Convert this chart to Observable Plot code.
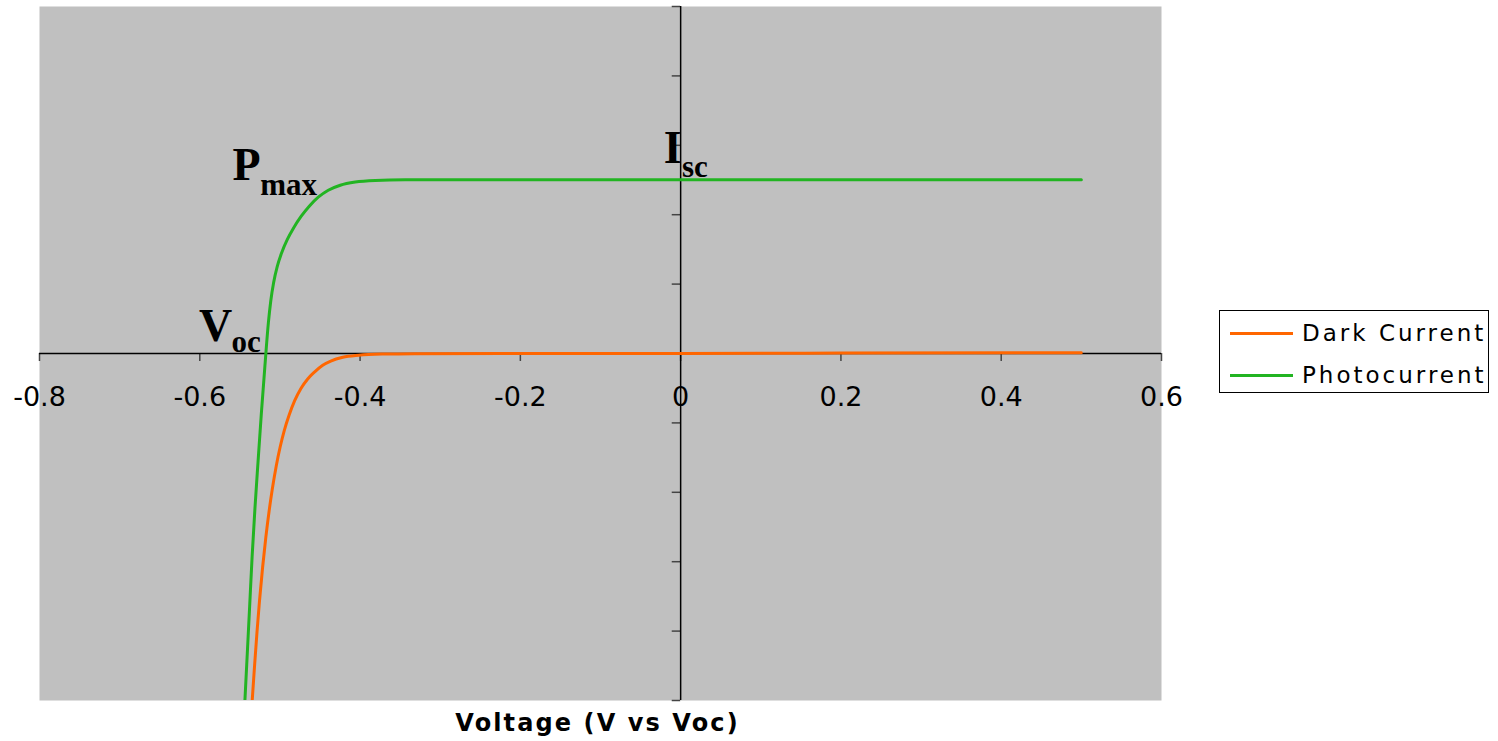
<!DOCTYPE html>
<html><head><meta charset="utf-8">
<script src="https://cdn.jsdelivr.net/npm/d3@7"></script>
<script src="https://cdn.jsdelivr.net/npm/@observablehq/plot@0.6"></script>
<style>
html,body{margin:0;padding:0;background:#fff;}
#wrap{position:relative;width:1498px;height:741px;overflow:hidden;}
#legend{position:absolute;left:1219px;top:310px;width:270px;height:83px;box-sizing:border-box;border:1px solid #000;background:#fff;font-family:"DejaVu Sans";font-size:23px;letter-spacing:3px;color:#000;}
#legend .sw{position:absolute;left:10px;width:63px;height:3px;}
#legend .lb{position:absolute;left:82px;line-height:23px;white-space:nowrap;}
</style></head><body><div id="wrap"></div>
<script>
// ---- data ----
const seriesNames = ["Dark Current", "Photocurrent"];
const seriesColors = ["#ff6600", "#22b422"];

const darkV = [-0.5346,-0.5316,-0.5286,-0.5256,-0.5216,-0.5176,-0.5136,-0.5096,-0.5046,-0.4996,-0.4946,-0.4886,-0.4816,-0.4736,-0.4656,-0.4566,-0.4466,-0.4366,-0.4216,-0.4016,-0.3716,-0.3316,-0.2,0,0.2,0.5];
const darkI = [-5.0,-4.49,-4.01,-3.58,-3.08,-2.65,-2.28,-1.96,-1.62,-1.34,-1.11,-0.89,-0.68,-0.50,-0.37,-0.265,-0.17,-0.11,-0.055,-0.025,-0.008,-0.002,0,0,0.006,0.012];

const photoV = [-0.5437,-0.5408,-0.5378,-0.5347,-0.5312,-0.5273,-0.5232,-0.5188,-0.5144,-0.5114,-0.5079,-0.5034,-0.4978,-0.4909,-0.4828,-0.4734,-0.4634,-0.4522,-0.4397,-0.4247,-0.4060,-0.3810,-0.3436,-0.3000,-0.2,0,0.2,0.5];
const photoI = [-5.0,-4.337,-3.646,-2.926,-2.235,-1.558,-0.866,-0.189,0.444,0.761,1.020,1.251,1.453,1.640,1.813,1.978,2.122,2.252,2.353,2.425,2.471,2.494,2.503,2.504,2.504,2.504,2.504,2.504];

const xTicks = [-0.8,-0.6,-0.4,-0.2,0,0.2,0.4,0.6];
const xTickLabels = ["-0.8","-0.6","-0.4","-0.2","0","0.2","0.4","0.6"];
const yTicks = [-5,-4,-3,-2,-1,0,1,2,3,4,5];
const xTitle = "Voltage (V vs Voc)";

const annMain = ["P","V","I"];
const annMainX = [-0.5592,-0.6010,-0.0212];
const annMainY = [2.504,0.185,2.744];
const annSub = ["max","oc","sc"];
const annSubX = [-0.5246,-0.5605,0.0017];
const annSubY = [2.290,0.017,2.537];

// ---- build ----
const rows = [
  ...darkV.map((v,i)=>({series:seriesNames[0], V:v, I:darkI[i]})),
  ...photoV.map((v,i)=>({series:seriesNames[1], V:v, I:photoI[i]}))
];
const mains = annMain.map((t,i)=>({t, x:annMainX[i], y:annMainY[i]}));
const subs = annSub.map((t,i)=>({t, x:annSubX[i], y:annSubY[i]}));
const xt = xTicks.map((v,i)=>({v, label:xTickLabels[i]}));

const chart = Plot.plot({
  width: 1498, height: 741,
  marginLeft: 39, marginRight: 337, marginTop: 6, marginBottom: 41,
  style: {background: "transparent", fontFamily: "DejaVu Sans"},
  x: {domain: [-0.8, 0.6], axis: null},
  y: {domain: [-5, 5], axis: null},
  color: {domain: seriesNames, range: seriesColors},
  marks: [
    Plot.frame({fill: "#c0c0c0", stroke: "none"}),
    Plot.ruleX(xTicks, {x: d=>d, y1: 0, y2: -0.115, stroke: "#444", strokeWidth: 1.5}),
    Plot.ruleY(yTicks, {y: d=>d, x1: -0.0105, x2: 0, stroke: "#444", strokeWidth: 1.5}),
    Plot.ruleY([0], {stroke: "#000", strokeWidth: 1.5}),
    Plot.ruleX([0], {stroke: "#000", strokeWidth: 1.5}),
    Plot.line(rows, {x: "V", y: "I", z: "series", stroke: "series", strokeWidth: 3, curve: "monotone-x", clip: true}),
    Plot.text(xt, {x: "v", y: 0, text: "label", dy: 52, lineAnchor: "bottom", fontSize: 27, fill: "#000", fontFamily: "DejaVu Sans"}),
    Plot.text([xTitle], {frameAnchor: "bottom", text: d=>d, dx: -3, dy: 30, lineAnchor: "bottom", fontSize: 24, fontWeight: "bold", fill: "#000", fontFamily: "DejaVu Sans"}),
    Plot.text(mains, {x: "x", y: "y", text: "t", textAnchor: "start", lineAnchor: "bottom", fontSize: 46, fontWeight: "bold", fill: "#000", fontFamily: "Liberation Serif"}),
    Plot.text(subs, {x: "x", y: "y", text: "t", textAnchor: "start", lineAnchor: "bottom", fontSize: 31, fontWeight: "bold", fill: "#000", fontFamily: "Liberation Serif"})
  ]
});
const wrap = document.getElementById("wrap");
wrap.appendChild(chart);

// letter spacing for the axis title
d3.select(chart).selectAll("text").filter(function(){ return this.textContent === xTitle; })
  .attr("letter-spacing", "2.1px");

// legend
const leg = document.createElement("div");
leg.id = "legend";
const rowTops = [22, 64];
seriesNames.forEach((name, i) => {
  const sw = document.createElement("div");
  sw.className = "sw";
  sw.style.top = (rowTops[i] - 1.5) + "px";
  sw.style.background = seriesColors[i];
  leg.appendChild(sw);
  const lb = document.createElement("div");
  lb.className = "lb";
  lb.style.top = (rowTops[i] - 11) + "px";
  lb.textContent = name;
  leg.appendChild(lb);
});
wrap.appendChild(leg);
</script>
</body></html>
